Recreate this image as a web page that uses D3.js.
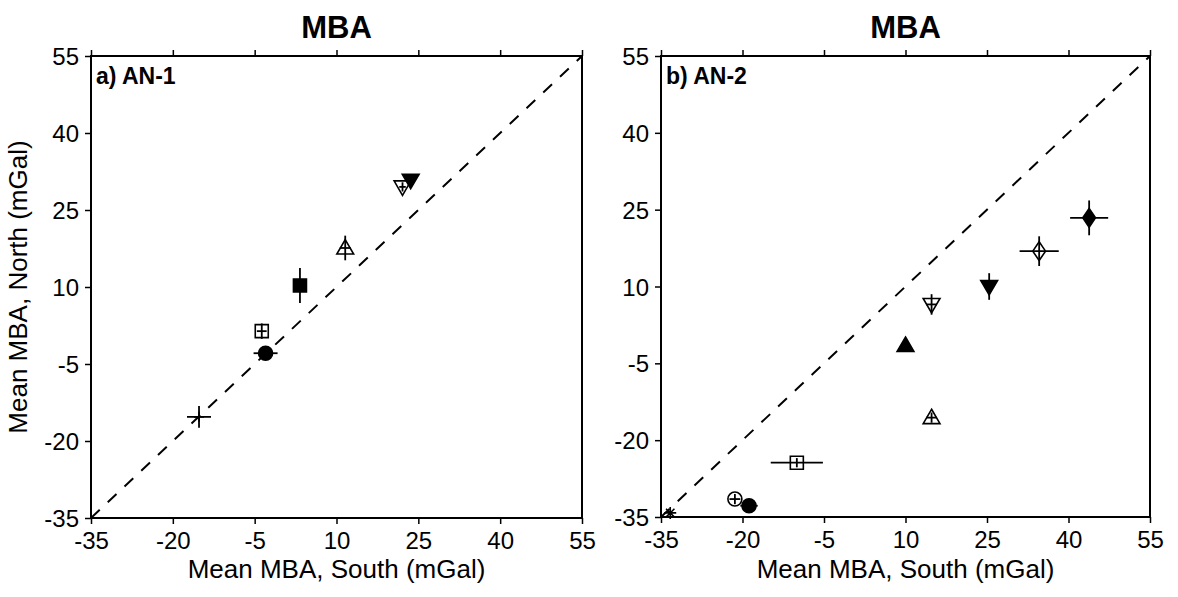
<!DOCTYPE html>
<html><head><meta charset="utf-8">
<script src="https://cdn.jsdelivr.net/npm/d3@7"></script>
<style>body{margin:0;background:#fff}svg{display:block}text{font-family:"Liberation Sans",Arial,Helvetica,sans-serif}</style>
</head><body>
<script>
// ---- data ----
const tickValues = [-35, -20, -5, 10, 25, 40, 55];
const tickLabels = ["-35", "-20", "-5", "10", "25", "40", "55"];
const domainRange = [-35, 55];
const panelTitles = ["MBA", "MBA"];
const panelLabels = ["a) AN-1", "b) AN-2"];
const xTitle = "Mean MBA, South (mGal)";
const yTitle = "Mean MBA, North (mGal)";

// panel a
const aSymbol = ["plus", "circle", "square", "square", "triangle", "triangleDown", "triangleDown"];
const aFilled = [false, true, false, true, false, false, true];
const aSouth = [-15.2, -3.0, -3.7, 3.3, 11.6, 22.1, 23.6];
const aNorth = [-15.3, -2.9, 1.4, 10.3, 17.6, 29.5, 30.8];
const aSouthErr = [2.2, 2.2, 0.9, 0.9, 1.0, 0.6, 0];
const aNorthErr = [2.1, 0.5, 1.5, 3.4, 2.4, 0.9, 0];

// panel b
const bSymbol = ["asterisk", "circle", "circle", "square", "triangle", "triangle", "triangleDown", "triangleDown", "diamond", "diamond"];
const bFilled = [false, false, true, false, true, false, false, true, false, true];
const bSouth = [-33.3, -21.4, -18.8, -10.0, 10.0, 14.8, 14.8, 25.4, 34.6, 43.8];
const bNorth = [-34.2, -31.5, -32.8, -24.4, -1.5, -15.6, 6.5, 10.0, 16.9, 23.4];
const bSouthErr = [0, 1.0, 1.6, 4.8, 0, 1.0, 1.0, 0, 3.6, 3.5];
const bNorthErr = [0, 1.0, 0, 0.9, 0, 1.0, 2.0, 2.6, 2.9, 3.4];

const W = 1178, H = 597;
const svg = d3.select("body").append("svg").attr("width", W).attr("height", H);

const panels = [
  {left: 91, right: 582, top: 56, bottom: 518, title: panelTitles[0], label: panelLabels[0],
   sym: aSymbol, filled: aFilled, x: aSouth, y: aNorth, xe: aSouthErr, ye: aNorthErr, yTitle: true},
  {left: 661, right: 1150, top: 56, bottom: 517, title: panelTitles[1], label: panelLabels[1],
   sym: bSymbol, filled: bFilled, x: bSouth, y: bNorth, xe: bSouthErr, ye: bNorthErr, yTitle: false}
];

function symbolPath(type, s) {
  switch (type) {
    case "circle": return d3.symbol(d3.symbolCircle, Math.PI * s * s)();
    case "square": return `M${-s},${-s}H${s}V${s}H${-s}Z`;
    case "triangle": return `M0,${-s * 1.05}L${s * 1.05},${s * 0.75}L${-s * 1.05},${s * 0.75}Z`;
    case "triangleDown": return `M0,${s * 1.05}L${s * 1.05},${-s * 0.75}L${-s * 1.05},${-s * 0.75}Z`;
    case "diamond": return `M0,${-s * 1.25}L${s * 0.85},0L0,${s * 1.25}L${-s * 0.85},0Z`;
    case "plus": return `M${-s},0H${s}M0,${-s}V${s}`;
    case "asterisk": return `M${-s},0H${s}M0,${-s}V${s}M${-s*0.7},${-s*0.7}L${s*0.7},${s*0.7}M${-s*0.7},${s*0.7}L${s*0.7},${-s*0.7}`;
  }
}
const symSize = {circle: 7, square: 6.5, triangle: 8, triangleDown: 8, diamond: 7.5, plus: 5, asterisk: 6};
const fmt = d => tickLabels[tickValues.indexOf(d)];

panels.forEach(p => {
  const x = d3.scaleLinear().domain(domainRange).range([p.left, p.right]);
  const y = d3.scaleLinear().domain(domainRange).range([p.bottom, p.top]);
  const g = svg.append("g");

  // title
  g.append("text").attr("x", (p.left + p.right) / 2).attr("y", 38)
    .attr("text-anchor", "middle").attr("font-size", 31).attr("font-weight", "bold").text(p.title);

  // axes
  const ax = d3.axisBottom(x).tickValues(tickValues).tickFormat(fmt).tickSize(6).tickSizeOuter(0).tickPadding(8);
  const gx = g.append("g").attr("transform", `translate(0,${p.bottom})`).call(ax);
  const ay = d3.axisLeft(y).tickValues(tickValues).tickFormat(fmt).tickSize(6).tickSizeOuter(0).tickPadding(6);
  const gy = g.append("g").attr("transform", `translate(${p.left},0)`).call(ay);
  const at = d3.axisTop(x).tickValues(tickValues).tickSize(6).tickSizeOuter(0).tickFormat("");
  const gt = g.append("g").attr("transform", `translate(0,${p.top})`).call(at);
  [gx, gy, gt].forEach(a => {
    a.select(".domain").remove();
    a.selectAll(".tick line").attr("stroke", "#000").attr("stroke-width", 1.5);
    a.selectAll(".tick text").attr("font-size", 24).attr("fill", "#000")
      .attr("font-family", '"Liberation Sans",Arial,sans-serif');
  });
  gx.selectAll(".tick text").attr("dy", "0.71em");
  gy.selectAll(".tick text").attr("dy", "0.36em");

  // frame
  g.append("rect").attr("x", p.left).attr("y", p.top)
    .attr("width", p.right - p.left).attr("height", p.bottom - p.top)
    .attr("fill", "none").attr("stroke", "#000").attr("stroke-width", 2);

  // diagonal 1:1 line
  g.append("line").attr("x1", x(domainRange[0])).attr("y1", y(domainRange[0]))
    .attr("x2", x(domainRange[1])).attr("y2", y(domainRange[1]))
    .attr("stroke", "#000").attr("stroke-width", 2).attr("stroke-dasharray", "12,11");

  // axis titles
  g.append("text").attr("x", (p.left + p.right) / 2).attr("y", 578)
    .attr("text-anchor", "middle").attr("font-size", 26).text(xTitle);
  if (p.yTitle) {
    g.append("text").attr("transform", `translate(27,${(p.top + p.bottom) / 2}) rotate(-90)`)
      .attr("text-anchor", "middle").attr("font-size", 26).text(yTitle);
  }

  // panel label
  g.append("text").attr("x", p.left + 5).attr("y", p.top + 28)
    .attr("font-size", 23).attr("font-weight", "bold").text(p.label);

  // points
  const data = p.x.map((v, i) => ({sx: v, ny: p.y[i], xe: p.xe[i], ye: p.ye[i], sym: p.sym[i], filled: p.filled[i]}));
  const pts = g.selectAll(".pt").data(data).join("g").attr("class", "pt")
    .attr("transform", d => `translate(${x(d.sx)},${y(d.ny)})`);
  pts.append("path")
    .attr("d", d => symbolPath(d.sym, symSize[d.sym]))
    .attr("fill", d => (d.sym === "plus" || d.sym === "asterisk") ? "none" : (d.filled ? "#000" : "#fff"))
    .attr("stroke", "#000").attr("stroke-width", 1.6);
  // error bars
  pts.filter(d => d.xe > 0).append("line")
    .attr("x1", d => x(d.sx - d.xe) - x(d.sx)).attr("x2", d => x(d.sx + d.xe) - x(d.sx))
    .attr("y1", 0).attr("y2", 0).attr("stroke", "#000").attr("stroke-width", 1.8);
  pts.filter(d => d.ye > 0).append("line")
    .attr("y1", d => y(d.ny - d.ye) - y(d.ny)).attr("y2", d => y(d.ny + d.ye) - y(d.ny))
    .attr("x1", 0).attr("x2", 0).attr("stroke", "#000").attr("stroke-width", 1.8);
});
</script>
</body></html>
